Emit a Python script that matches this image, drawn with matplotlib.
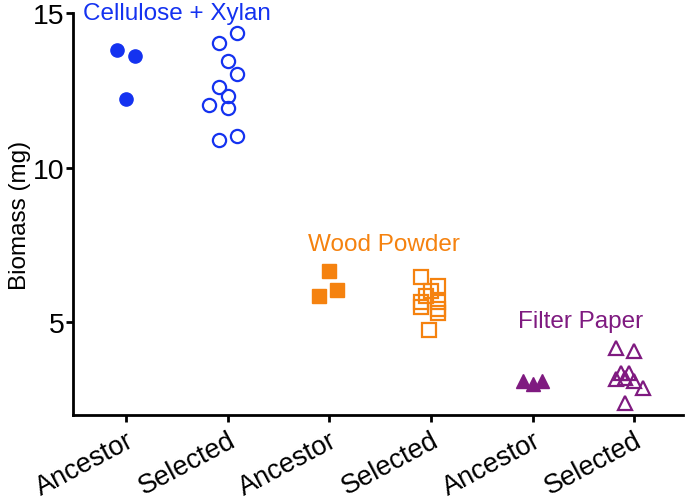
import matplotlib
matplotlib.use("Agg")
import matplotlib.pyplot as plt

plt.rcParams['font.family'] = ['Liberation Sans', 'DejaVu Sans']

tick_labels = ["Ancestor", "Selected", "Ancestor", "Selected", "Ancestor", "Selected"]
group_names = ["Cellulose + Xylan", "Wood Powder", "Filter Paper"]
colors = ["#1432f0", "#f5820f", "#7f1a80"]
markers = ["o", "s", "^"]

# cellulose + xylan
cx_anc_x = [-0.09, 0.09, 0.0]
cx_anc_y = [13.81, 13.62, 12.22]
cx_sel_x = [0.09, -0.09, 0.0, 0.09, -0.09, 0.0, -0.18, 0.0, -0.09, 0.09]
cx_sel_y = [14.34, 14.03, 13.44, 13.02, 12.61, 12.31, 12.02, 11.93, 10.91, 11.02]

# wood powder
wp_anc_x = [0.0, 0.075, -0.1]
wp_anc_y = [6.65, 6.06, 5.85]
wp_sel_x = [-0.1, 0.07, 0.0, -0.05, -0.1, -0.1, 0.07, 0.07, 0.07, -0.02]
wp_sel_y = [6.46, 6.17, 6.0, 5.84, 5.65, 5.49, 5.65, 5.42, 5.3, 4.74]

# filter paper
fp_anc_x = [-0.09, 0.0, 0.09]
fp_anc_y = [3.1, 3.0, 3.1]
fp_sel_x = [-0.18, 0.0, -0.18, -0.13, -0.05, 0.0, -0.09, 0.09, -0.09]
fp_sel_y = [4.18, 4.09, 3.18, 3.35, 3.35, 3.12, 3.2, 2.89, 2.4]

groups = [
    (cx_anc_x, cx_anc_y, cx_sel_x, cx_sel_y),
    (wp_anc_x, wp_anc_y, wp_sel_x, wp_sel_y),
    (fp_anc_x, fp_anc_y, fp_sel_x, fp_sel_y),
]
label_pos = [(-0.42, 15.0), (1.79, 7.52), (3.86, 5.03)]

fig = plt.figure(figsize=(6.85, 5.02), dpi=100)
ax = fig.add_axes([0.107, 0.171, 0.89, 0.801])

for i, (ax_x, ay, sx, sy) in enumerate(groups):
    c = colors[i]
    ax.plot([2 * i + v for v in ax_x], ay, linestyle="none", marker=markers[i],
            ms=9.5, color=c, mec=c, clip_on=False)
    ax.plot([2 * i + 1 + v for v in sx], sy, linestyle="none", marker=markers[i],
            ms=9.5, mfc="none", mec=c, mew=1.6, clip_on=False)
    ax.text(label_pos[i][0], label_pos[i][1], group_names[i], color=c,
            fontsize=17.5, va="center", ha="left")

ax.set_xlim(-0.52, 5.48)
ax.set_ylim(2.0, 15.0)
ax.set_yticks([5, 10, 15])
ax.set_xticks(range(6))
ax.set_xticklabels(tick_labels, rotation=28, ha="right", rotation_mode="anchor",
                   fontsize=19.5)
ax.set_ylabel("Biomass (mg)", fontsize=17.5, labelpad=2)
ax.tick_params(axis="y", labelsize=20.5, pad=1)
ax.tick_params(width=2, length=5, direction="out")
for s in ["top", "right"]:
    ax.spines[s].set_visible(False)
for s in ["left", "bottom"]:
    ax.spines[s].set_linewidth(2)

fig.savefig("out.png", dpi=100)
